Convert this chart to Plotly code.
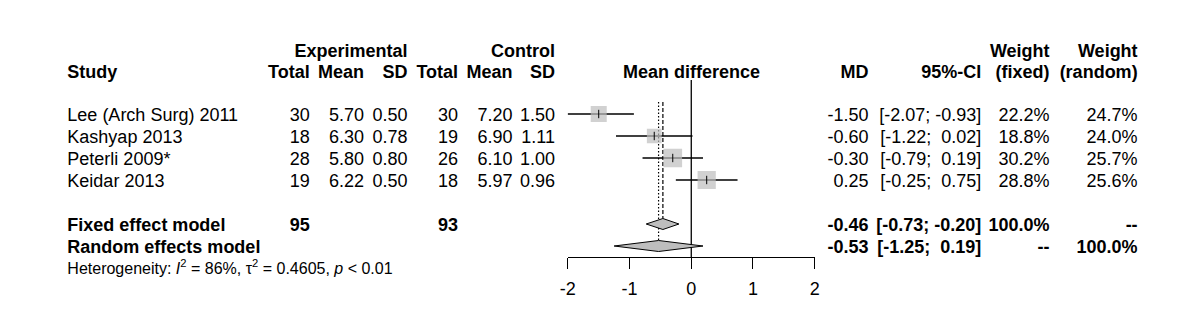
import math
import plotly.graph_objects as go

# ---------------- data ----------------
studies = ["Lee (Arch Surg) 2011", "Kashyap 2013", "Peterli 2009*", "Keidar 2013"]
exp_total = [30, 18, 28, 19]
exp_mean = [5.70, 6.30, 5.80, 6.22]
exp_sd = [0.50, 0.78, 0.80, 0.50]
ctrl_total = [30, 19, 26, 18]
ctrl_mean = [7.20, 6.90, 6.10, 5.97]
ctrl_sd = [1.50, 1.11, 1.00, 0.96]
md = [-1.50, -0.60, -0.30, 0.25]
ci_lo = [-2.07, -1.22, -0.79, -0.25]
ci_hi = [-0.93, 0.02, 0.19, 0.75]
w_fixed = [22.2, 18.8, 30.2, 28.8]
w_random = [24.7, 24.0, 25.7, 25.6]
fixed_label = "Fixed effect model"
random_label = "Random effects model"
fixed_est, fixed_lo, fixed_hi = -0.46, -0.73, -0.20
random_est, random_lo, random_hi = -0.53, -1.25, 0.19
exp_total_sum, ctrl_total_sum = 95, 93
tick_vals = [-2, -1, 0, 1, 2]
tick_text = ["-2", "-1", "0", "1", "2"]
het_text = ("Heterogeneity: <i>I</i><sup>2</sup> = 86%, \u03c4<sup>2</sup> = 0.4605, "
            "<i>p</i>\u00a0<\u00a00.01")

# ---------------- layout helpers ----------------
W, H = 1200, 333
FONT = "Liberation Sans, Arial, Helvetica, sans-serif"
FS = 18
NB = "\u00a0"
row_y = [0, 1, 2, 3]
fixed_row, random_row = 5, 6
ROW_PX0, ROW_H = 114, 22
TEXT_DY = 2.0 / ROW_H          # small downward nudge so text baselines sit like the reference
y_top = -ROW_PX0 / ROW_H
y_bot = (H - ROW_PX0) / ROW_H


def px2row(p):
    return (p - ROW_PX0) / ROW_H


def pad(v):
    return (NB if v >= 0 else "") + f"{v:.2f}"


def ci_str(lo, hi):
    return "[" + pad(lo) + ";" + NB + pad(hi) + "]"


fig = go.Figure()
FX = dict(xaxis="x2", yaxis="y", hoverinfo="skip")

# CI lines
for r, lo, hi in zip(row_y, ci_lo, ci_hi):
    fig.add_trace(go.Scatter(x=[lo, hi], y=[r, r], mode="lines",
                             line=dict(color="black", width=1.3), **FX))

# reference lines
fig.add_trace(go.Scatter(x=[0, 0], y=[px2row(80), px2row(257)], mode="lines",
                         line=dict(color="black", width=1.3), **FX))
fig.add_trace(go.Scatter(x=[fixed_est, fixed_est], y=[px2row(102), fixed_row - 0.25], mode="lines",
                         line=dict(color="black", width=1.2, dash="4px,2px"), **FX))
fig.add_trace(go.Scatter(x=[random_est, random_est], y=[px2row(102), random_row - 0.25], mode="lines",
                         line=dict(color="black", width=1.2, dash="1.5px,2px"), **FX))

# squares
fig.add_trace(go.Scatter(x=md, y=row_y, mode="markers",
                         marker=dict(symbol="square", color="#bebebe",
                                     size=[3.4 * math.sqrt(w) for w in w_fixed],
                                     line=dict(width=0)), **FX))
fig.add_trace(go.Scatter(x=md, y=row_y, mode="markers",
                         marker=dict(symbol="line-ns", size=6,
                                     line=dict(width=1, color="black")), **FX))

# diamonds
for r, est, lo, hi in [(fixed_row, fixed_est, fixed_lo, fixed_hi),
                       (random_row, random_est, random_lo, random_hi)]:
    fig.add_trace(go.Scatter(x=[lo, est, hi, est, lo], y=[r, r - 0.25, r, r + 0.25, r],
                             mode="lines", fill="toself", fillcolor="#bebebe",
                             line=dict(color="black", width=1), **FX))

# ---------------- text table (pixel-positioned helper axis x) ----------------
groups = {}


def txt(x, r, s, anchor="right", bold=False, size=FS):
    if bold:
        s = "<b>" + s + "</b>"
    pos = {"right": "middle left", "left": "middle right", "center": "middle center"}[anchor]
    key = (pos, size)
    g = groups.setdefault(key, ([], [], []))
    g[0].append(x)
    g[1].append(r + TEXT_DY)
    g[2].append(s)


# column edges (px)
C_STUDY = 60
C_ET, C_EM, C_ES = 305, 360, 404
C_CT, C_CM, C_CS = 455, 510, 553
C_MD, C_CI, C_WF, C_WR = 870, 984, 1053, 1142

# headers
h1, h2 = px2row(50.5), px2row(71)
txt(C_ES, h1, "Experimental", bold=True)
txt(C_CS, h1, "Control", bold=True)
txt(C_WF, h1, "Weight", bold=True)
txt(C_WR, h1, "Weight", bold=True)
txt(C_STUDY, h2, "Study", "left", bold=True)
for x, s in [(C_ET, "Total"), (C_EM, "Mean"), (C_ES, "SD"), (C_CT, "Total"), (C_CM, "Mean"),
             (C_CS, "SD"), (C_MD, "MD"), (C_CI, "95%-CI"), (C_WF, "(fixed)"), (C_WR, "(random)")]:
    txt(x, h2, s, bold=True)
txt(691, h2, "Mean difference", "center", bold=True)

# study rows
for i, r in enumerate(row_y):
    txt(C_STUDY, r, studies[i], "left")
    txt(C_ET, r, str(exp_total[i]))
    txt(C_EM, r, f"{exp_mean[i]:.2f}")
    txt(C_ES, r, f"{exp_sd[i]:.2f}")
    txt(C_CT, r, str(ctrl_total[i]))
    txt(C_CM, r, f"{ctrl_mean[i]:.2f}")
    txt(C_CS, r, f"{ctrl_sd[i]:.2f}")
    txt(C_MD, r, f"{md[i]:.2f}")
    txt(C_CI, r, ci_str(ci_lo[i], ci_hi[i]))
    txt(C_WF, r, f"{w_fixed[i]:.1f}%")
    txt(C_WR, r, f"{w_random[i]:.1f}%")

# summary rows
txt(C_STUDY, fixed_row, fixed_label, "left", bold=True)
txt(C_ET, fixed_row, str(exp_total_sum), bold=True)
txt(C_CT, fixed_row, str(ctrl_total_sum), bold=True)
txt(C_MD, fixed_row, f"{fixed_est:.2f}", bold=True)
txt(C_CI, fixed_row, ci_str(fixed_lo, fixed_hi), bold=True)
txt(C_WF, fixed_row, f"{sum(w_fixed):.1f}%", bold=True)
txt(C_WR, fixed_row, "--", bold=True)

txt(C_STUDY, random_row, random_label, "left", bold=True)
txt(C_MD, random_row, f"{random_est:.2f}", bold=True)
txt(C_CI, random_row, ci_str(random_lo, random_hi), bold=True)
txt(C_WF, random_row, "--", bold=True)
txt(C_WR, random_row, f"{sum(w_random):.1f}%", bold=True)

txt(C_STUDY, px2row(268), het_text, "left", size=16)

for (pos, size), (xs, ys, ts) in groups.items():
    fig.add_trace(go.Scatter(x=xs, y=ys, text=ts, mode="text", textposition=pos,
                             textfont=dict(family=FONT, size=size, color="black"),
                             xaxis="x", yaxis="y", hoverinfo="skip", cliponaxis=False))

fig.update_layout(
    width=W, height=H,
    margin=dict(l=0, r=0, t=0, b=0),
    paper_bgcolor="white", plot_bgcolor="rgba(0,0,0,0)",
    showlegend=False,
    xaxis=dict(domain=[0, 1], range=[0, W], anchor="y", visible=False,
               showgrid=False, zeroline=False, fixedrange=True),
    xaxis2=dict(domain=[566 / W, 815.5 / W], range=[-2, 2], anchor="free",
                position=1 - 257 / H, showline=True, linecolor="black", linewidth=1,
                ticks="outside", ticklen=11, tickcolor="black", tickwidth=1,
                ticklabelstandoff=4,
                tickvals=tick_vals, ticktext=tick_text, showgrid=False, zeroline=False,
                tickfont=dict(family=FONT, size=FS, color="black"), fixedrange=True),
    yaxis=dict(domain=[0, 1], range=[y_bot, y_top], visible=False, showgrid=False,
               zeroline=False, fixedrange=True),
)

fig.write_html("out.html")
